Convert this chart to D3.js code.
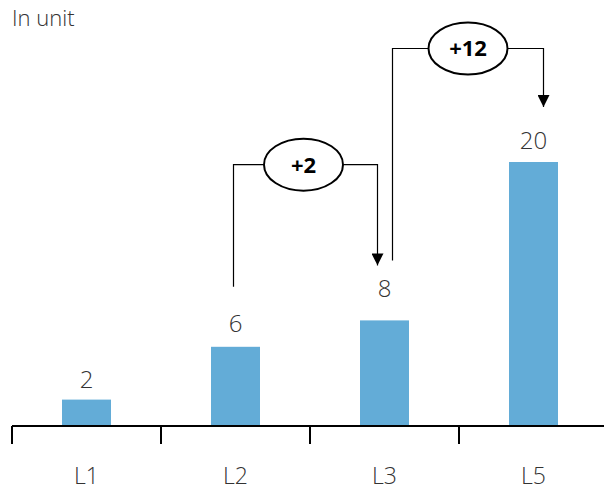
<!DOCTYPE html>
<html><head><meta charset="utf-8">
<script src="https://cdn.jsdelivr.net/npm/d3@7/dist/d3.min.js"></script>
<style>
html,body{margin:0;padding:0;background:#fff;}
text{font-family:"Open Sans",sans-serif;}
</style></head>
<body><svg id="c" width="604" height="490"></svg>
<script>
const categories = ["L1", "L2", "L3", "L5"];
const values = [2, 6, 8, 20];
const title = "In unit";
// annotations: from category, to category, label, bracket level (in units)
const annFrom = ["L2", "L3"];
const annTo = ["L3", "L5"];
const annLabels = ["+2", "+12"];
const annLevels = [19.8, 28.6];

const svg = d3.select("#c");
const x = d3.scaleBand().domain(categories).range([12, 608]).padding(0);
const y = d3.scaleLinear().domain([0, 20]).range([426, 162]);
const barW = 49;
const color = "#63acd7";
const textColor = "#333333";
const labelGap = [12, 15, 23, 13];

svg.append("text").attr("x", 12).attr("y", 26).attr("font-size", 22)
  .attr("font-weight", 300).attr("fill", textColor).text(title);

const data = categories.map((c, i) => ({c, v: values[i], g: labelGap[i]}));

svg.selectAll("rect.bar").data(data).enter().append("rect")
  .attr("class", "bar")
  .attr("x", d => x(d.c) + x.bandwidth() / 2 - barW / 2)
  .attr("width", barW)
  .attr("y", d => y(d.v))
  .attr("height", d => y(0) - y(d.v))
  .attr("fill", color);

svg.selectAll("text.val").data(data).enter().append("text")
  .attr("class", "val")
  .attr("x", d => x(d.c) + x.bandwidth() / 2)
  .attr("y", d => y(d.v) - d.g)
  .attr("text-anchor", "middle")
  .attr("font-size", 24).attr("font-weight", 300).attr("fill", textColor)
  .text(d => d.v);

// axis
const axis = d3.axisBottom(x).tickSize(0).tickFormat(d => d);
const gAx = svg.append("g").attr("transform", `translate(0,${y(0)})`).call(axis);
gAx.select(".domain").remove();
gAx.selectAll(".tick line").remove();
gAx.selectAll(".tick text").attr("y", 58).attr("dy", 0)
  .attr("font-size", 23).attr("font-weight", 300).attr("fill", textColor)
  .attr("font-family", "Open Sans, sans-serif");
svg.append("line").attr("x1", 12).attr("x2", 604).attr("y1", y(0)).attr("y2", y(0))
  .attr("stroke", "#000").attr("stroke-width", 2);
svg.selectAll("line.tk").data(categories).enter().append("line")
  .attr("class", "tk")
  .attr("x1", d => x(d)).attr("x2", d => x(d))
  .attr("y1", y(0)).attr("y2", y(0) + 18)
  .attr("stroke", "#000").attr("stroke-width", 2);

// annotations
const defs = svg.append("defs");
defs.append("marker").attr("id", "arr").attr("viewBox", "0 0 10 10")
  .attr("refX", 10).attr("refY", 5).attr("markerWidth", 12).attr("markerHeight", 12)
  .attr("markerUnits", "userSpaceOnUse").attr("orient", "auto")
  .append("path").attr("d", "M0,0 L10,5 L0,10 Z").attr("fill", "#000");

const valOf = c => values[categories.indexOf(c)];
const fromOff = [-2, 8];
const toOff = [-7, 10];
annFrom.forEach((f, i) => {
  const t = annTo[i];
  const x1 = x(f) + x.bandwidth() / 2 + fromOff[i];
  const x2 = x(t) + x.bandwidth() / 2 + toOff[i];
  const yb = y(annLevels[i]);
  const yStart = y(valOf(f)) - 60;
  const yEnd = y(valOf(t)) - 55;
  const cx = (x1 + x2) / 2 - (i === 0 ? 2 : 0);
  const rx = 39.5, ry = 26;
  svg.append("path")
    .attr("d", `M${x1},${yStart} V${yb} H${cx - rx}`)
    .attr("fill", "none").attr("stroke", "#000").attr("stroke-width", 1.2);
  svg.append("path")
    .attr("d", `M${cx + rx},${yb} H${x2} V${yEnd}`)
    .attr("fill", "none").attr("stroke", "#000").attr("stroke-width", 1.2)
    .attr("marker-end", "url(#arr)");
  svg.append("ellipse").attr("cx", cx).attr("cy", yb).attr("rx", rx).attr("ry", ry)
    .attr("fill", "#fff").attr("stroke", "#000").attr("stroke-width", 2);
  svg.append("text").attr("x", cx).attr("y", yb + 8).attr("text-anchor", "middle")
    .attr("font-size", 22).attr("font-weight", 700).attr("fill", "#000").text(annLabels[i]);
});
</script></body></html>
